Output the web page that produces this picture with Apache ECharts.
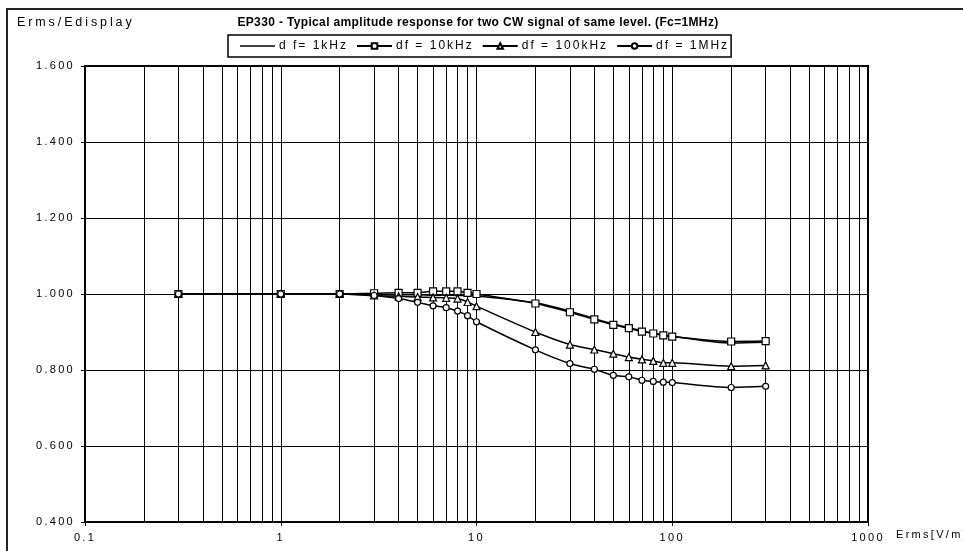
<!DOCTYPE html>
<html>
<head>
<meta charset="utf-8">
<script src="https://cdn.jsdelivr.net/npm/echarts@6/dist/echarts.min.js"></script>
<style>
  html, body { margin: 0; padding: 0; background: #fff; }
  #chart { width: 963px; height: 551px; }
</style>
</head>
<body>
<div id="chart"></div>
<script>
// Field strength (V/m) at which each measurement was taken
const fieldStrength = [0.3, 1, 2, 3, 4, 5, 6, 7, 8, 9, 10, 20, 30, 40, 50, 60, 70, 80, 90, 100, 200, 300];

// Erms / Edisplay ratio for each tone spacing
const df1kHz   = [1.000, 1.000, 1.000, 0.999, 0.998, 0.998, 0.997, 0.997, 0.996, 0.996, 0.995, 0.977, 0.955, 0.935, 0.921, 0.911, 0.903, 0.897, 0.892, 0.889, 0.871, 0.873];
const df10kHz  = [1.000, 1.000, 1.000, 1.002, 1.003, 1.003, 1.007, 1.007, 1.007, 1.003, 1.000, 0.975, 0.952, 0.933, 0.919, 0.910, 0.901, 0.896, 0.891, 0.888, 0.875, 0.876];
const df100kHz = [1.000, 1.000, 1.000, 0.996, 0.994, 0.992, 0.991, 0.990, 0.988, 0.979, 0.968, 0.900, 0.867, 0.854, 0.843, 0.834, 0.828, 0.824, 0.819, 0.819, 0.810, 0.812];
const df1MHz   = [1.000, 1.000, 1.000, 0.996, 0.988, 0.978, 0.969, 0.964, 0.955, 0.943, 0.927, 0.853, 0.817, 0.802, 0.786, 0.782, 0.773, 0.770, 0.768, 0.767, 0.754, 0.757];

const seriesNames = ['d f= 1kHz', 'df = 10kHz', 'df = 100kHz', 'df = 1MHz'];

// Axis ranges and ticks
const xMin = 0.1, xMax = 1000;
const yMin = 0.4, yMax = 1.6, yStep = 0.2;

// Minor log grid positions (2..9 within each decade)
const minorGrid = [];
for (let d = 0.1; d < 1000; d *= 10) {
  for (let k = 2; k <= 9; k++) minorGrid.push(+(k * d).toPrecision(3));
}

// Spaced-out lettering, applied to both drawing and measuring so layout stays consistent
(function () {
  const proto = CanvasRenderingContext2D.prototype;
  const spacingFor = f => {
    if (/bold/.test(f)) return '0.35px';
    if (/12\.5px/.test(f)) return '2.9px';
    if (/12px/.test(f)) return '2px';
    return '2.3px';
  };
  ['fillText', 'strokeText', 'measureText'].forEach(fn => {
    const orig = proto[fn];
    proto[fn] = function () {
      if ('letterSpacing' in this) this.letterSpacing = spacingFor(this.font);
      return orig.apply(this, arguments);
    };
  });
})();

const pairs = ys => fieldStrength.map((x, i) => [x, ys[i]]);

const font = 'Liberation Sans, Arial, sans-serif';
const chart = echarts.init(document.getElementById('chart'));

const lineSeries = (name, ys, symbol, size) => ({
  name: name,
  type: 'line',
  data: pairs(ys),
  smooth: 0.3,
  symbol: symbol,
  symbolSize: size,
  showSymbol: symbol !== 'none',
  lineStyle: { color: '#000', width: 1.5 },
  itemStyle: { color: '#fff', borderColor: '#000', borderWidth: 1.2 },
  z: 5
});

chart.setOption({
  animation: false,
  backgroundColor: '#fff',
  title: {
    text: 'EP330 - Typical amplitude response for two CW signal of same level. (Fc=1MHz)',
    left: 473, top: 12, textAlign: 'center',
    textStyle: { fontFamily: font, fontSize: 12, fontWeight: 'bold', color: '#000' }
  },
  legend: {
    data: [
      // plain line sample for the series drawn without markers
      { name: seriesNames[0], icon: 'path://M0,0L35,0L35,1.5L0,1.5Z', itemStyle: { color: '#000', borderWidth: 0 } },
      seriesNames[1], seriesNames[2], seriesNames[3]
    ],
    left: 228, top: 35,
    orient: 'horizontal',
    itemGap: 8,
    itemWidth: 35, itemHeight: 7,
    symbolKeepAspect: true,
    padding: [4, 2, 4, 12],
    borderColor: '#000', borderWidth: 1.5,
    textStyle: { fontFamily: font, fontSize: 12, color: '#000', padding: [0, 0, 0, -1] }
  },
  grid: { left: 85, top: 66, right: 95, bottom: 29, show: true, borderColor: '#000', borderWidth: 2 },
  xAxis: {
    type: 'log', logBase: 10, min: xMin, max: xMax,
    axisLine: { show: true, onZero: false, lineStyle: { color: '#000', width: 2 } },
    axisTick: { show: true, length: 4, lineStyle: { color: '#000' } },
    axisLabel: { fontFamily: font, fontSize: 11, color: '#000', margin: 9,
      formatter: v => String(+v.toPrecision(3)) },
    splitLine: { show: true, lineStyle: { color: '#000', width: 1 } }
  },
  yAxis: {
    type: 'value', min: yMin, max: yMax, interval: yStep,
    axisLine: { show: true, lineStyle: { color: '#000', width: 2 } },
    axisTick: { show: true, length: 4, lineStyle: { color: '#000' } },
    axisLabel: { fontFamily: font, fontSize: 11, color: '#000', margin: 10,
      formatter: v => v.toFixed(3) },
    splitLine: { show: true, lineStyle: { color: '#000', width: 1 } }
  },
  graphic: [
    { type: 'rect', shape: { x: 7, y: 9, width: 1000, height: 600 },
      style: { fill: 'none', stroke: '#222', lineWidth: 2 }, silent: true },
    { type: 'text', left: 17, top: 15,
      style: { text: 'Erms/Edisplay', font: '12.5px ' + font, fill: '#000' } },
    { type: 'text', left: 896, top: 528,
      style: { text: 'Erms[V/m]', font: '11px ' + font, fill: '#000' } }
  ],
  series: [
    {
      name: 'minor-grid', type: 'line', data: [], silent: true, z: 1,
      markLine: {
        silent: true, symbol: ['none', 'none'], label: { show: false },
        lineStyle: { color: '#000', width: 1, type: 'solid' },
        data: minorGrid.map(v => ({ xAxis: v }))
      }
    },
    lineSeries(seriesNames[0], df1kHz, 'none', 0),
    lineSeries(seriesNames[1], df10kHz, 'rect', 7),
    lineSeries(seriesNames[2], df100kHz, 'triangle', 7),
    lineSeries(seriesNames[3], df1MHz, 'circle', 6)
  ]
});
</script>
</body>
</html>
